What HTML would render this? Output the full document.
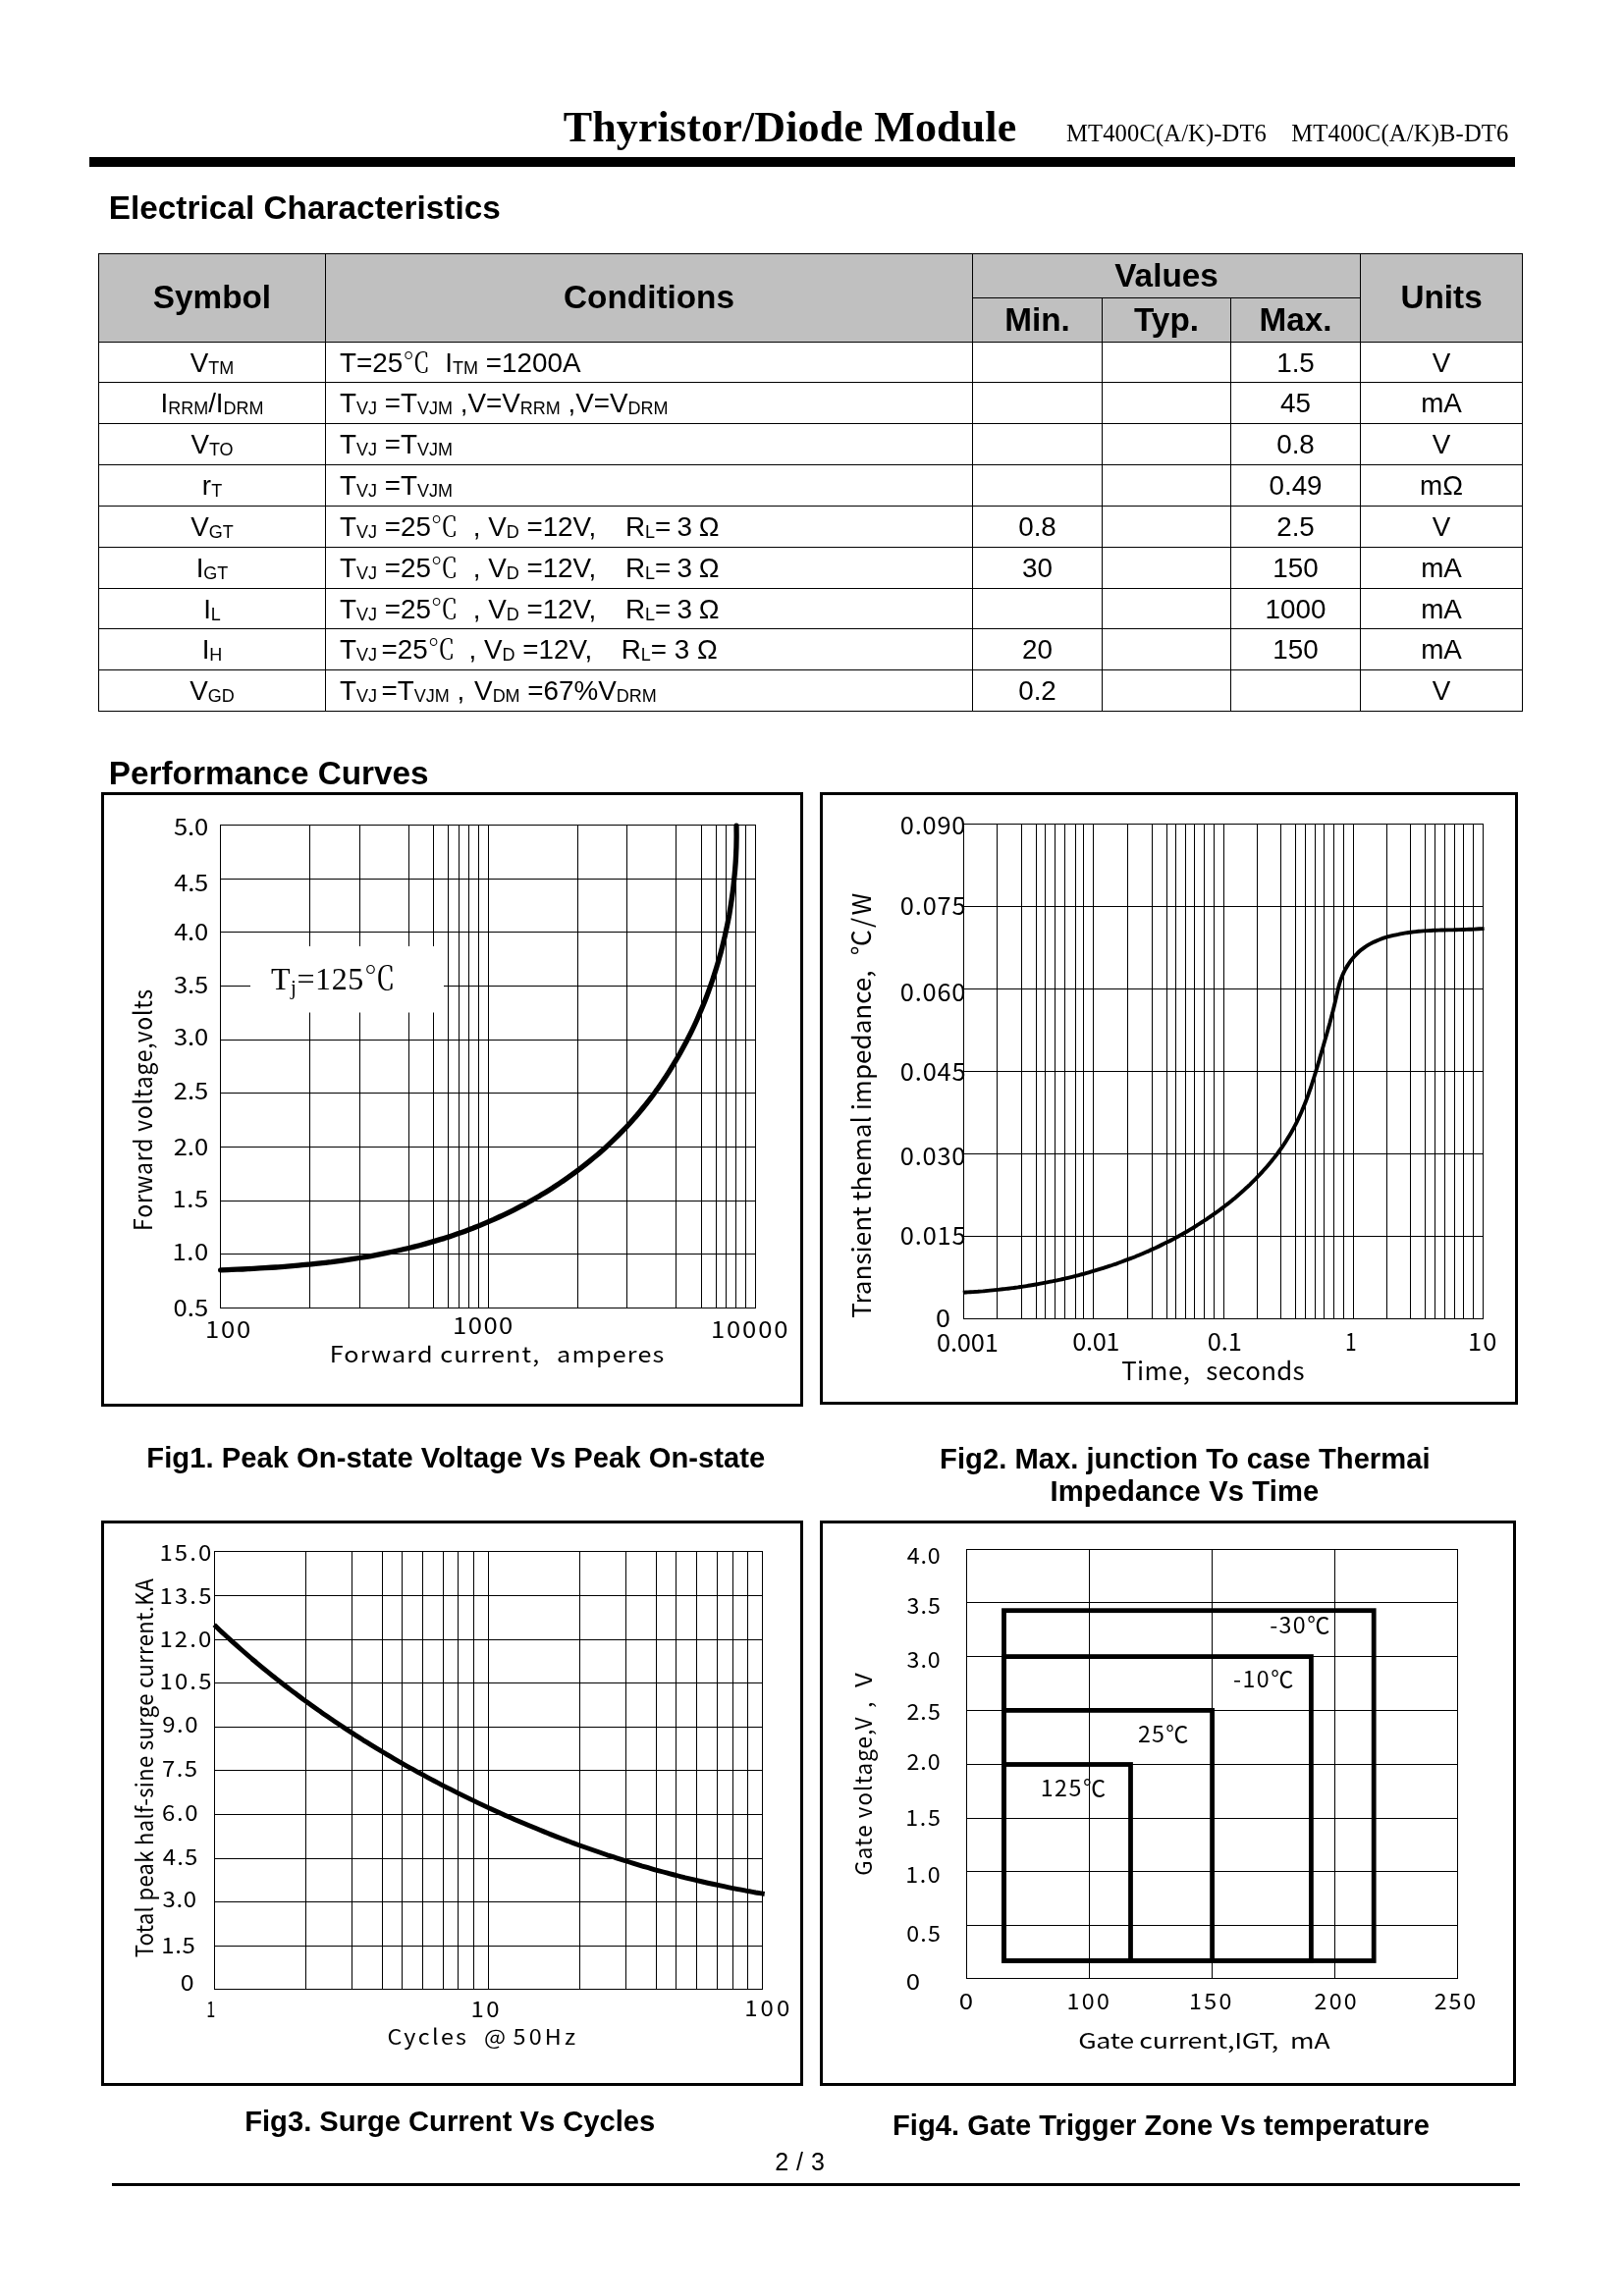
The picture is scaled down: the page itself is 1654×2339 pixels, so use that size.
<!DOCTYPE html>
<html lang="en">
<head>
<meta charset="utf-8">
<title>Thyristor/Diode Module MT400C(A/K)-DT6 - Electrical Characteristics</title>
<style>
html,body{margin:0;padding:0;background:#fff;}
body{width:1654px;height:2339px;position:relative;overflow:hidden;color:#000;font-family:"Liberation Sans","Noto Serif CJK SC",sans-serif;}
#bar{position:absolute;left:91px;top:160px;width:1452px;height:10px;background:#000;}
#foot{position:absolute;left:114px;top:2224px;width:1434px;height:3px;background:#000;}
#page{position:absolute;left:0;top:0;will-change:transform;}
table.ec{will-change:transform;position:absolute;left:100px;top:258px;width:1451px;border-collapse:separate;border-spacing:0;table-layout:fixed;font-size:27.8px;line-height:32px;}
table.ec td,table.ec th{box-sizing:border-box;border-left:1px solid #000;border-top:1px solid #000;padding:0;text-align:center;vertical-align:top;white-space:nowrap;overflow:visible;font-weight:normal;}
table.ec th{background:#c0c0c0;font-weight:bold;font-size:33.3px;line-height:38px;}
table.ec .r{border-right:1px solid #000;}
table.ec tr.last td{border-bottom:1px solid #000;}
table.ec td{padding-top:5px;}
table.ec td.cond{text-align:left;padding-left:14px;}
table.ec .g{display:inline-block;height:1px;}
table.ec .s{font-size:18px;line-height:1px;position:relative;top:2px;}
</style>
</head>
<body>
<div id="bar"></div>
<table class="ec">
<colgroup><col style="width:231px"><col style="width:659px"><col style="width:132px"><col style="width:131px"><col style="width:132px"><col style="width:166px"></colgroup>
<thead>
<tr style="height:45px"><th rowspan="2" style="padding-top:25px">Symbol</th><th rowspan="2" style="padding-top:25px">Conditions</th><th colspan="3" style="padding-top:3px">Values</th><th rowspan="2" class="r" style="padding-top:25px">Units</th></tr>
<tr style="height:45px"><th style="padding-top:3px">Min.</th><th style="padding-top:3px">Typ.</th><th style="padding-top:3px">Max.</th></tr>
</thead>
<tbody>
<tr style="height:41px"><td class="sym">V<span class="s">TM</span></td><td class="cond">T=25℃&nbsp; I<span class="s">TM</span> =1200A</td><td></td><td></td><td>1.5</td><td class="r">V</td></tr>
<tr style="height:42px"><td class="sym">I<span class="s">RRM</span>/I<span class="s">DRM</span></td><td class="cond">T<span class="s">VJ</span> =T<span class="s">VJM</span> ,V=V<span class="s">RRM</span> ,V=V<span class="s">DRM</span></td><td></td><td></td><td>45</td><td class="r">mA</td></tr>
<tr style="height:42px"><td class="sym">V<span class="s">TO</span></td><td class="cond">T<span class="s">VJ</span> =T<span class="s">VJM</span></td><td></td><td></td><td>0.8</td><td class="r">V</td></tr>
<tr style="height:42px"><td class="sym">r<span class="s">T</span></td><td class="cond">T<span class="s">VJ</span> =T<span class="s">VJM</span></td><td></td><td></td><td>0.49</td><td class="r">mΩ</td></tr>
<tr style="height:42px"><td class="sym">V<span class="s">GT</span></td><td class="cond">T<span class="s">VJ</span> =25℃<span class="g" style="width:7.3px"></span> , V<span class="s">D</span> =12V,&nbsp;&nbsp;<span class="g" style="width:6.5px"></span> R<span class="s">L</span>=<span style="margin-left:-1.5px"></span> 3<span style="margin-left:-1px"></span> Ω</td><td>0.8</td><td></td><td>2.5</td><td class="r">V</td></tr>
<tr style="height:42px"><td class="sym">I<span class="s">GT</span></td><td class="cond">T<span class="s">VJ</span> =25℃<span class="g" style="width:7.3px"></span> , V<span class="s">D</span> =12V,&nbsp;&nbsp;<span class="g" style="width:6.5px"></span> R<span class="s">L</span>=<span style="margin-left:-1.5px"></span> 3<span style="margin-left:-1px"></span> Ω</td><td>30</td><td></td><td>150</td><td class="r">mA</td></tr>
<tr style="height:41px"><td class="sym">I<span class="s">L</span></td><td class="cond">T<span class="s">VJ</span> =25℃<span class="g" style="width:7.3px"></span> , V<span class="s">D</span> =12V,&nbsp;&nbsp;<span class="g" style="width:6.5px"></span> R<span class="s">L</span>=<span style="margin-left:-1.5px"></span> 3<span style="margin-left:-1px"></span> Ω</td><td></td><td></td><td>1000</td><td class="r">mA</td></tr>
<tr style="height:42px"><td class="sym">I<span class="s">H</span></td><td class="cond">T<span class="s">VJ</span><span class="g" style="width:4.5px"></span>=25℃<span class="g" style="width:6.4px"></span> , V<span class="s">D</span> =12V,&nbsp;&nbsp;<span class="g" style="width:6.4px"></span> R<span class="s">L</span>= 3 Ω</td><td>20</td><td></td><td>150</td><td class="r">mA</td></tr>
<tr style="height:43px" class="last"><td class="sym">V<span class="s">GD</span></td><td class="cond">T<span class="s">VJ</span><span class="g" style="width:4.5px"></span>=T<span class="s">VJM</span> ,<span class="g" style="width:2.2px"></span> V<span class="s">DM</span> =67%V<span class="s">DRM</span></td><td>0.2</td><td></td><td></td><td class="r">V</td></tr>
</tbody>
</table>
<svg id="page" width="1654" height="2339" viewBox="0 0 1654 2339" fill="#000">
<rect x="104.5" y="808.5" width="712" height="623" fill="#fff" stroke="#000" stroke-width="3" shape-rendering="crispEdges"/>
<path d="M224 840.5H770 M224 895.5H770 M224 949.5H770 M224 1004.5H770 M224 1059.5H770 M224 1113.5H770 M224 1168.5H770 M224 1223.5H770 M224 1277.5H770 M224 1332.5H770 M224.5 840V1333 M315.5 840V1333 M366.5 840V1333 M416.5 840V1333 M441.5 840V1333 M456.5 840V1333 M467.5 840V1333 M477.5 840V1333 M487.5 840V1333 M497.5 840V1333 M588.5 840V1333 M638.5 840V1333 M688.5 840V1333 M714.5 840V1333 M729.5 840V1333 M739.5 840V1333 M749.5 840V1333 M759.5 840V1333 M769.5 840V1333" stroke="#000" stroke-width="1" fill="none" shape-rendering="crispEdges"/>
<rect x="255" y="964" width="197" height="67.5" fill="#fff"/>
<path d="M224.6 1293.9C226.4 1293.8 232.0 1293.6 235.8 1293.4C239.5 1293.3 243.3 1293.1 247.0 1293.0C250.8 1292.8 254.5 1292.6 258.3 1292.4C262.1 1292.2 265.8 1292.0 269.6 1291.7C273.4 1291.5 277.1 1291.3 280.9 1291.0C284.7 1290.7 288.5 1290.5 292.2 1290.2C296.0 1289.9 299.8 1289.5 303.6 1289.2C307.4 1288.9 311.1 1288.5 314.9 1288.1C318.7 1287.7 322.5 1287.3 326.3 1286.9C330.0 1286.5 333.8 1286.0 337.6 1285.6C341.4 1285.1 345.2 1284.6 348.9 1284.1C352.7 1283.6 356.5 1283.0 360.2 1282.4C364.0 1281.8 367.7 1281.2 371.5 1280.6C375.2 1280.0 379.0 1279.3 382.7 1278.6C386.5 1277.9 390.2 1277.2 393.9 1276.4C397.7 1275.7 401.4 1274.9 405.1 1274.0C408.8 1273.2 412.5 1272.4 416.2 1271.5C419.9 1270.6 423.6 1269.6 427.3 1268.7C431.0 1267.7 434.6 1266.7 438.3 1265.6C441.9 1264.6 445.6 1263.5 449.2 1262.4C452.9 1261.3 456.5 1260.1 460.1 1258.9C463.7 1257.7 467.3 1256.4 470.9 1255.2C474.5 1253.9 478.0 1252.5 481.6 1251.2C485.1 1249.8 488.7 1248.4 492.2 1246.9C495.7 1245.4 499.2 1243.9 502.7 1242.4C506.2 1240.8 509.6 1239.2 513.1 1237.6C516.5 1236.0 520.0 1234.3 523.4 1232.6C526.8 1230.9 530.1 1229.1 533.5 1227.3C536.9 1225.5 540.2 1223.7 543.5 1221.8C546.8 1219.9 550.1 1218.0 553.3 1216.0C556.6 1214.1 559.8 1212.0 563.0 1210.0C566.2 1207.9 569.4 1205.9 572.5 1203.7C575.7 1201.6 578.8 1199.4 581.8 1197.2C584.9 1195.0 588.0 1192.7 591.0 1190.4C594.0 1188.1 596.9 1185.8 599.9 1183.4C602.8 1181.0 605.7 1178.6 608.6 1176.2C611.5 1173.7 614.3 1171.2 617.1 1168.7C619.9 1166.1 622.6 1163.5 625.3 1160.9C628.0 1158.3 630.7 1155.6 633.3 1152.9C636.0 1150.2 638.6 1147.5 641.1 1144.7C643.6 1141.9 646.1 1139.1 648.6 1136.2C651.0 1133.4 653.5 1130.4 655.8 1127.5C658.2 1124.6 660.5 1121.6 662.8 1118.6C665.1 1115.6 667.3 1112.5 669.5 1109.5C671.7 1106.4 673.8 1103.3 675.9 1100.1C678.1 1097.0 680.1 1093.8 682.1 1090.6C684.1 1087.4 686.1 1084.2 688.0 1080.9C690.0 1077.7 691.9 1074.4 693.7 1071.1C695.5 1067.7 697.3 1064.4 699.1 1061.0C700.8 1057.7 702.5 1054.3 704.2 1050.9C705.9 1047.4 707.5 1044.0 709.1 1040.5C710.6 1037.1 712.2 1033.6 713.6 1030.1C715.1 1026.6 716.6 1023.0 718.0 1019.5C719.4 1015.9 720.7 1012.4 722.0 1008.8C723.3 1005.2 724.6 1001.6 725.8 998.0C727.0 994.4 728.2 990.7 729.3 987.1C730.4 983.4 731.5 979.8 732.5 976.1C733.6 972.4 734.6 968.7 735.5 965.1C736.4 961.4 737.3 957.6 738.2 953.9C739.0 950.2 739.8 946.5 740.6 942.7C741.4 939.0 742.1 935.3 742.8 931.5C743.4 927.8 744.0 924.0 744.6 920.2C745.2 916.5 745.7 912.7 746.2 909.0C746.7 905.2 747.2 901.4 747.5 897.6C747.9 893.9 748.3 890.1 748.6 886.3C748.9 882.5 749.2 878.8 749.4 875.0C749.6 871.2 749.7 867.4 749.9 863.7C750.0 859.9 750.0 856.1 750.1 852.4C750.1 848.6 750.0 843.0 750.0 841.1" fill="none" stroke="#000" stroke-width="5.3" stroke-linecap="round" stroke-linejoin="round"/>
<text x="276" y="1007.7" font-size="32" letter-spacing="0.55" style='font-family:"Liberation Serif","Noto Serif CJK SC",serif'>T<tspan font-size="21" dy="5">j</tspan><tspan dy="-5">=125℃</tspan></text>
<rect x="836.5" y="808.5" width="708" height="621" fill="#fff" stroke="#000" stroke-width="3" shape-rendering="crispEdges"/>
<path d="M981 839.5H1511 M981 923.5H1511 M981 1007.5H1511 M981 1091.5H1511 M981 1175.5H1511 M981 1259.5H1511 M981 1343.5H1511 M981.5 839V1344 M1015.5 839V1344 M1040.5 839V1344 M1055.5 839V1344 M1064.5 839V1344 M1074.5 839V1344 M1084.5 839V1344 M1095.5 839V1344 M1103.5 839V1344 M1113.5 839V1344 M1148.5 839V1344 M1173.5 839V1344 M1188.5 839V1344 M1197.5 839V1344 M1207.5 839V1344 M1216.5 839V1344 M1226.5 839V1344 M1236.5 839V1344 M1246.5 839V1344 M1280.5 839V1344 M1304.5 839V1344 M1319.5 839V1344 M1329.5 839V1344 M1339.5 839V1344 M1348.5 839V1344 M1358.5 839V1344 M1368.5 839V1344 M1378.5 839V1344 M1412.5 839V1344 M1436.5 839V1344 M1451.5 839V1344 M1461.5 839V1344 M1471.5 839V1344 M1481.5 839V1344 M1490.5 839V1344 M1500.5 839V1344 M1510.5 839V1344" stroke="#000" stroke-width="1" fill="none" shape-rendering="crispEdges"/>
<path d="M980.8 1316.7C981.6 1316.6 984.1 1316.5 985.8 1316.4C987.5 1316.3 989.2 1316.2 990.9 1316.1C992.6 1316.0 994.3 1315.9 996.0 1315.8C997.7 1315.6 999.4 1315.5 1001.1 1315.4C1002.8 1315.2 1004.5 1315.1 1006.2 1314.9C1007.9 1314.8 1009.6 1314.6 1011.3 1314.4C1013.0 1314.3 1014.7 1314.1 1016.4 1313.9C1018.1 1313.7 1019.8 1313.5 1021.5 1313.3C1023.2 1313.2 1024.9 1312.9 1026.6 1312.7C1028.3 1312.5 1030.0 1312.3 1031.7 1312.1C1033.4 1311.9 1035.1 1311.6 1036.8 1311.4C1038.5 1311.1 1040.2 1310.9 1041.9 1310.6C1043.6 1310.4 1045.3 1310.1 1047.0 1309.8C1048.7 1309.6 1050.4 1309.3 1052.1 1309.0C1053.8 1308.7 1055.5 1308.4 1057.2 1308.1C1058.9 1307.8 1060.6 1307.5 1062.3 1307.2C1064.0 1306.9 1065.7 1306.5 1067.4 1306.2C1069.1 1305.9 1070.8 1305.5 1072.5 1305.2C1074.1 1304.8 1075.8 1304.5 1077.5 1304.1C1079.2 1303.7 1080.9 1303.4 1082.6 1303.0C1084.3 1302.6 1085.9 1302.2 1087.6 1301.8C1089.3 1301.4 1091.0 1301.0 1092.7 1300.6C1094.3 1300.2 1096.0 1299.7 1097.7 1299.3C1099.4 1298.9 1101.0 1298.4 1102.7 1298.0C1104.4 1297.5 1106.0 1297.1 1107.7 1296.6C1109.4 1296.1 1111.0 1295.7 1112.7 1295.2C1114.3 1294.7 1116.0 1294.2 1117.6 1293.7C1119.3 1293.2 1120.9 1292.7 1122.6 1292.2C1124.2 1291.7 1125.9 1291.1 1127.5 1290.6C1129.2 1290.1 1130.8 1289.5 1132.4 1289.0C1134.1 1288.4 1135.7 1287.8 1137.3 1287.3C1139.0 1286.7 1140.6 1286.1 1142.2 1285.5C1143.8 1284.9 1145.4 1284.3 1147.0 1283.7C1148.7 1283.1 1150.3 1282.5 1151.9 1281.9C1153.5 1281.3 1155.1 1280.6 1156.7 1280.0C1158.3 1279.3 1159.9 1278.7 1161.5 1278.0C1163.0 1277.4 1164.6 1276.7 1166.2 1276.0C1167.8 1275.3 1169.4 1274.6 1170.9 1273.9C1172.5 1273.2 1174.1 1272.5 1175.6 1271.8C1177.2 1271.1 1178.7 1270.3 1180.3 1269.6C1181.9 1268.9 1183.4 1268.1 1184.9 1267.3C1186.5 1266.6 1188.0 1265.8 1189.6 1265.0C1191.1 1264.3 1192.6 1263.5 1194.1 1262.7C1195.7 1261.9 1197.2 1261.1 1198.7 1260.3C1200.2 1259.4 1201.7 1258.6 1203.2 1257.8C1204.7 1256.9 1206.2 1256.1 1207.7 1255.2C1209.2 1254.4 1210.6 1253.5 1212.1 1252.6C1213.6 1251.7 1215.1 1250.9 1216.5 1250.0C1218.0 1249.1 1219.4 1248.1 1220.9 1247.2C1222.3 1246.3 1223.8 1245.4 1225.2 1244.4C1226.7 1243.5 1228.1 1242.5 1229.5 1241.6C1230.9 1240.6 1232.4 1239.7 1233.8 1238.7C1235.2 1237.7 1236.6 1236.7 1238.0 1235.7C1239.4 1234.7 1240.8 1233.7 1242.1 1232.7C1243.5 1231.6 1244.9 1230.6 1246.3 1229.6C1247.6 1228.5 1249.0 1227.5 1250.4 1226.4C1251.7 1225.3 1253.1 1224.2 1254.4 1223.2C1255.7 1222.1 1257.1 1221.0 1258.4 1219.9C1259.7 1218.7 1261.0 1217.6 1262.3 1216.5C1263.6 1215.4 1264.9 1214.2 1266.2 1213.1C1267.5 1211.9 1268.7 1210.7 1270.0 1209.6C1271.3 1208.4 1272.5 1207.2 1273.7 1206.0C1275.0 1204.8 1276.2 1203.6 1277.4 1202.4C1278.6 1201.2 1279.8 1199.9 1281.0 1198.7C1282.2 1197.5 1283.4 1196.2 1284.6 1194.9C1285.7 1193.7 1286.9 1192.4 1288.0 1191.1C1289.2 1189.8 1290.3 1188.5 1291.4 1187.2C1292.5 1185.9 1293.6 1184.6 1294.7 1183.3C1295.8 1181.9 1296.8 1180.6 1297.9 1179.3C1299.0 1177.9 1300.0 1176.5 1301.0 1175.2C1302.0 1173.8 1303.0 1172.4 1304.0 1171.0C1305.0 1169.6 1306.0 1168.2 1307.0 1166.8C1307.9 1165.4 1308.9 1163.9 1309.8 1162.5C1310.7 1161.1 1311.6 1159.6 1312.5 1158.1C1313.4 1156.7 1314.2 1155.2 1315.1 1153.7C1315.9 1152.2 1316.8 1150.7 1317.6 1149.2C1318.4 1147.7 1319.2 1146.2 1320.0 1144.7C1320.7 1143.1 1321.5 1141.6 1322.2 1140.0C1323.0 1138.5 1323.7 1136.9 1324.4 1135.3C1325.1 1133.8 1325.8 1132.2 1326.4 1130.6C1327.1 1129.0 1327.8 1127.4 1328.4 1125.8C1329.1 1124.2 1329.7 1122.6 1330.3 1121.0C1330.9 1119.4 1331.5 1117.7 1332.1 1116.1C1332.7 1114.5 1333.3 1112.8 1333.8 1111.2C1334.4 1109.6 1335.0 1107.9 1335.5 1106.3C1336.1 1104.6 1336.6 1103.0 1337.1 1101.3C1337.7 1099.7 1338.2 1098.0 1338.7 1096.3C1339.2 1094.7 1339.7 1093.0 1340.2 1091.4C1340.7 1089.7 1341.2 1088.0 1341.7 1086.4C1342.2 1084.7 1342.7 1083.0 1343.2 1081.4C1343.7 1079.7 1344.1 1078.0 1344.6 1076.4C1345.1 1074.7 1345.6 1073.1 1346.1 1071.4C1346.5 1069.8 1347.0 1068.1 1347.5 1066.5C1348.0 1064.8 1348.4 1063.2 1348.9 1061.5C1349.4 1059.9 1349.8 1058.2 1350.3 1056.6C1350.8 1054.9 1351.3 1053.3 1351.7 1051.7C1352.2 1050.0 1352.6 1048.4 1353.1 1046.7C1353.6 1045.1 1354.0 1043.5 1354.5 1041.8C1354.9 1040.2 1355.3 1038.5 1355.8 1036.9C1356.2 1035.2 1356.6 1033.6 1357.1 1031.9C1357.5 1030.3 1357.9 1028.6 1358.3 1027.0C1358.7 1025.3 1359.1 1023.6 1359.5 1022.0C1359.9 1020.3 1360.3 1018.6 1360.7 1016.9C1361.1 1015.3 1361.4 1013.6 1361.8 1011.9C1362.2 1010.2 1362.6 1008.5 1363.0 1006.9C1363.4 1005.2 1363.9 1003.5 1364.3 1001.8C1364.8 1000.2 1365.4 998.5 1366.0 996.9C1366.6 995.3 1367.2 993.7 1367.9 992.1C1368.6 990.5 1369.4 989.0 1370.2 987.4C1371.1 985.9 1371.9 984.4 1372.9 983.0C1373.8 981.5 1374.8 980.1 1375.8 978.7C1376.8 977.3 1377.9 976.0 1379.0 974.7C1380.2 973.4 1381.4 972.2 1382.6 971.0C1383.8 969.8 1385.1 968.7 1386.4 967.6C1387.7 966.6 1389.1 965.6 1390.5 964.6C1391.9 963.7 1393.4 962.8 1394.9 961.9C1396.4 961.1 1397.9 960.3 1399.4 959.6C1401.0 958.9 1402.6 958.2 1404.2 957.5C1405.8 956.9 1407.4 956.3 1409.0 955.7C1410.7 955.2 1412.3 954.7 1414.0 954.2C1415.7 953.7 1417.4 953.3 1419.1 952.9C1420.8 952.5 1422.5 952.1 1424.2 951.8C1425.9 951.4 1427.6 951.1 1429.3 950.8C1431.0 950.5 1432.7 950.3 1434.4 950.0C1436.1 949.8 1437.8 949.6 1439.5 949.4C1441.2 949.2 1442.9 949.0 1444.6 948.8C1446.3 948.7 1448.0 948.5 1449.8 948.4C1451.5 948.3 1453.2 948.2 1454.9 948.1C1456.6 948.0 1458.3 947.9 1460.0 947.8C1461.7 947.8 1463.5 947.7 1465.2 947.6C1466.9 947.6 1468.6 947.5 1470.3 947.5C1472.0 947.4 1473.8 947.4 1475.5 947.4C1477.2 947.3 1478.9 947.3 1480.6 947.3C1482.4 947.2 1484.1 947.2 1485.8 947.1C1487.5 947.1 1489.2 947.1 1491.0 947.0C1492.7 946.9 1494.4 946.9 1496.1 946.8C1497.8 946.8 1499.6 946.7 1501.3 946.6C1503.0 946.5 1504.7 946.4 1506.4 946.3C1508.2 946.2 1510.7 946.0 1511.6 945.9" fill="none" stroke="#000" stroke-width="3.9" stroke-linecap="butt" stroke-linejoin="round"/>
<rect x="104.5" y="1550.5" width="712" height="573" fill="#fff" stroke="#000" stroke-width="3" shape-rendering="crispEdges"/>
<path d="M218 1580.5H777 M218 1625.5H777 M218 1670.5H777 M218 1714.5H777 M218 1759.5H777 M218 1803.5H777 M218 1848.5H777 M218 1893.5H777 M218 1937.5H777 M218 1982.5H777 M218 2026.5H777 M218.5 1580V2027 M311.5 1580V2027 M358.5 1580V2027 M389.5 1580V2027 M409.5 1580V2027 M430.5 1580V2027 M451.5 1580V2027 M466.5 1580V2027 M482.5 1580V2027 M497.5 1580V2027 M590.5 1580V2027 M637.5 1580V2027 M668.5 1580V2027 M688.5 1580V2027 M709.5 1580V2027 M730.5 1580V2027 M746.5 1580V2027 M761.5 1580V2027 M776.5 1580V2027" stroke="#000" stroke-width="1" fill="none" shape-rendering="crispEdges"/>
<path d="M218.2 1655.3C219.3 1656.3 222.6 1659.5 224.8 1661.6C227.1 1663.6 229.3 1665.7 231.6 1667.8C233.8 1669.8 236.1 1671.9 238.3 1673.9C240.6 1676.0 242.9 1678.0 245.2 1680.0C247.5 1682.0 249.8 1684.0 252.1 1686.0C254.4 1688.0 256.7 1690.0 259.1 1692.0C261.4 1693.9 263.7 1695.9 266.1 1697.8C268.4 1699.8 270.8 1701.7 273.2 1703.6C275.5 1705.5 277.9 1707.5 280.3 1709.3C282.7 1711.2 285.1 1713.1 287.5 1715.0C289.9 1716.9 292.3 1718.7 294.8 1720.6C297.2 1722.5 299.6 1724.3 302.1 1726.1C304.5 1728.0 307.0 1729.8 309.4 1731.6C311.9 1733.4 314.4 1735.2 316.9 1737.0C319.3 1738.7 321.8 1740.5 324.3 1742.3C326.8 1744.0 329.3 1745.8 331.8 1747.5C334.3 1749.3 336.9 1751.0 339.4 1752.7C341.9 1754.4 344.5 1756.1 347.0 1757.8C349.6 1759.5 352.1 1761.2 354.7 1762.9C357.2 1764.5 359.8 1766.2 362.4 1767.9C365.0 1769.5 367.5 1771.1 370.1 1772.8C372.7 1774.4 375.3 1776.0 377.9 1777.6C380.5 1779.2 383.1 1780.8 385.8 1782.4C388.4 1784.0 391.0 1785.5 393.6 1787.1C396.3 1788.7 398.9 1790.2 401.6 1791.8C404.2 1793.3 406.9 1794.8 409.5 1796.3C412.2 1797.9 414.8 1799.4 417.5 1800.9C420.2 1802.3 422.9 1803.8 425.6 1805.3C428.2 1806.8 430.9 1808.2 433.6 1809.7C436.3 1811.1 439.0 1812.6 441.7 1814.0C444.4 1815.4 447.2 1816.9 449.9 1818.3C452.6 1819.7 455.3 1821.1 458.1 1822.4C460.8 1823.8 463.5 1825.2 466.3 1826.6C469.0 1827.9 471.8 1829.3 474.5 1830.6C477.3 1832.0 480.0 1833.3 482.8 1834.6C485.5 1836.0 488.3 1837.3 491.1 1838.6C493.8 1839.9 496.6 1841.2 499.4 1842.4C502.2 1843.7 505.0 1845.0 507.8 1846.2C510.5 1847.5 513.3 1848.7 516.1 1850.0C518.9 1851.2 521.7 1852.4 524.5 1853.7C527.3 1854.9 530.1 1856.1 533.0 1857.3C535.8 1858.5 538.6 1859.7 541.4 1860.8C544.2 1862.0 547.1 1863.2 549.9 1864.3C552.7 1865.5 555.5 1866.6 558.4 1867.7C561.2 1868.9 564.1 1870.0 566.9 1871.1C569.8 1872.2 572.6 1873.3 575.5 1874.4C578.3 1875.5 581.2 1876.5 584.0 1877.6C586.9 1878.7 589.7 1879.7 592.6 1880.8C595.5 1881.8 598.4 1882.8 601.2 1883.8C604.1 1884.8 607.0 1885.8 609.9 1886.8C612.8 1887.8 615.7 1888.8 618.5 1889.8C621.4 1890.7 624.3 1891.7 627.2 1892.6C630.1 1893.6 633.0 1894.5 636.0 1895.4C638.9 1896.3 641.8 1897.2 644.7 1898.1C647.6 1899.0 650.5 1899.9 653.5 1900.8C656.4 1901.6 659.3 1902.5 662.3 1903.3C665.2 1904.2 668.1 1905.0 671.1 1905.8C674.0 1906.6 677.0 1907.4 679.9 1908.2C682.9 1909.0 685.8 1909.8 688.8 1910.5C691.7 1911.3 694.7 1912.0 697.7 1912.8C700.6 1913.5 703.6 1914.2 706.6 1914.9C709.6 1915.6 712.6 1916.3 715.5 1917.0C718.5 1917.7 721.5 1918.4 724.5 1919.0C727.5 1919.7 730.5 1920.3 733.5 1920.9C736.5 1921.6 739.5 1922.2 742.5 1922.8C745.5 1923.4 748.5 1924.0 751.5 1924.6C754.5 1925.2 757.6 1925.7 760.6 1926.3C763.6 1926.9 766.6 1927.4 769.6 1928.0C772.7 1928.5 777.2 1929.3 778.7 1929.5" fill="none" stroke="#000" stroke-width="4.9" stroke-linecap="butt" stroke-linejoin="round"/>
<rect x="836.5" y="1550.5" width="706" height="573" fill="#fff" stroke="#000" stroke-width="3" shape-rendering="crispEdges"/>
<path d="M984 1578.5H1485 M984 1632.5H1485 M984 1687.5H1485 M984 1742.5H1485 M984 1797.5H1485 M984 1852.5H1485 M984 1906.5H1485 M984 1961.5H1485 M984 2015.5H1485 M984.5 1578V2016 M1109.5 1578V2016 M1234.5 1578V2016 M1359.5 1578V2016 M1484.5 1578V2016" stroke="#000" stroke-width="1" fill="none" shape-rendering="crispEdges"/>
<rect x="1022.5" y="1640.7" width="376.7" height="356.8" fill="none" stroke="#000" stroke-width="4.8"/>
<rect x="1022.5" y="1687.6" width="312.9" height="309.9" fill="none" stroke="#000" stroke-width="4.8"/>
<rect x="1022.5" y="1742.4" width="212.1" height="255.1" fill="none" stroke="#000" stroke-width="4.8"/>
<rect x="1022.5" y="1797.5" width="129.0" height="200.0" fill="none" stroke="#000" stroke-width="4.8"/>
<text transform="translate(176.96,850.70) scale(1.1200,1)" font-size="22.9" letter-spacing="-0.180" style='font-family:"Noto Sans CJK SC",sans-serif'>5.0</text>
<text transform="translate(177.22,907.90) scale(1.1200,1)" font-size="22.9" letter-spacing="-0.238" style='font-family:"Noto Sans CJK SC",sans-serif'>4.5</text>
<text transform="translate(177.22,957.70) scale(1.1200,1)" font-size="22.9" letter-spacing="-0.295" style='font-family:"Noto Sans CJK SC",sans-serif'>4.0</text>
<text transform="translate(176.96,1011.70) scale(1.1200,1)" font-size="22.9" letter-spacing="-0.123" style='font-family:"Noto Sans CJK SC",sans-serif'>3.5</text>
<text transform="translate(176.96,1064.60) scale(1.1200,1)" font-size="22.9" letter-spacing="-0.180" style='font-family:"Noto Sans CJK SC",sans-serif'>3.0</text>
<text transform="translate(176.70,1119.70) scale(1.1200,1)" font-size="22.9" letter-spacing="-0.009" style='font-family:"Noto Sans CJK SC",sans-serif'>2.5</text>
<text transform="translate(176.70,1176.90) scale(1.1200,1)" font-size="22.9" letter-spacing="-0.066" style='font-family:"Noto Sans CJK SC",sans-serif'>2.0</text>
<text transform="translate(175.42,1230.40) scale(1.1200,1)" font-size="22.9" letter-spacing="0.564" style='font-family:"Noto Sans CJK SC",sans-serif'>1.5</text>
<text transform="translate(175.42,1284.40) scale(1.1200,1)" font-size="22.9" letter-spacing="0.507" style='font-family:"Noto Sans CJK SC",sans-serif'>1.0</text>
<text transform="translate(176.45,1340.60) scale(1.1200,1)" font-size="22.9" letter-spacing="0.106" style='font-family:"Noto Sans CJK SC",sans-serif'>0.5</text>
<text transform="translate(208.92,1363.20) scale(1.1200,1)" font-size="22.9" letter-spacing="1.621" style='font-family:"Noto Sans CJK SC",sans-serif'>100</text>
<text transform="translate(461.02,1358.50) scale(1.1200,1)" font-size="22.9" letter-spacing="1.308" style='font-family:"Noto Sans CJK SC",sans-serif'>1000</text>
<text transform="translate(724.02,1362.80) scale(1.1200,1)" font-size="22.9" letter-spacing="1.621" style='font-family:"Noto Sans CJK SC",sans-serif'>10000</text>
<text transform="translate(335.68,1388.00) scale(1.1200,1)" font-size="22.5" letter-spacing="0.971" style='font-family:"Noto Sans CJK SC",sans-serif'>Forward current,</text>
<text transform="translate(567.11,1388.00) scale(1.1200,1)" font-size="22.5" letter-spacing="1.035" style='font-family:"Noto Sans CJK SC",sans-serif'>amperes</text>
<text transform="translate(155.40,1253.89) rotate(-90) scale(0.9050,1)" font-size="25.3" letter-spacing="0.917" style='font-family:"Noto Sans CJK SC",sans-serif'>Forward voltage,volts</text>
<text transform="translate(916.86,850.30) scale(1.0000,1)" font-size="25.4" letter-spacing="0.784" style='font-family:"Noto Sans CJK SC",sans-serif'>0.090</text>
<text transform="translate(916.86,931.70) scale(1.0000,1)" font-size="25.4" letter-spacing="0.816" style='font-family:"Noto Sans CJK SC",sans-serif'>0.075</text>
<text transform="translate(916.86,1019.90) scale(1.0000,1)" font-size="25.4" letter-spacing="0.784" style='font-family:"Noto Sans CJK SC",sans-serif'>0.060</text>
<text transform="translate(916.86,1101.30) scale(1.0000,1)" font-size="25.4" letter-spacing="0.816" style='font-family:"Noto Sans CJK SC",sans-serif'>0.045</text>
<text transform="translate(916.86,1186.70) scale(1.0000,1)" font-size="25.4" letter-spacing="0.784" style='font-family:"Noto Sans CJK SC",sans-serif'>0.030</text>
<text transform="translate(916.86,1268.30) scale(1.0000,1)" font-size="25.4" letter-spacing="0.816" style='font-family:"Noto Sans CJK SC",sans-serif'>0.015</text>
<text transform="translate(953.09,1352.20) scale(1.0583,1)" font-size="25.4" style='font-family:"Noto Sans CJK SC",sans-serif'>0</text>
<text transform="translate(953.96,1376.60) scale(1.0000,1)" font-size="25.4" letter-spacing="-0.139" style='font-family:"Noto Sans CJK SC",sans-serif'>0.001</text>
<text transform="translate(1092.26,1376.30) scale(1.0000,1)" font-size="25.4" letter-spacing="-0.386" style='font-family:"Noto Sans CJK SC",sans-serif'>0.01</text>
<text transform="translate(1229.76,1376.30) scale(1.0000,1)" font-size="25.4" letter-spacing="-0.081" style='font-family:"Noto Sans CJK SC",sans-serif'>0.1</text>
<text transform="translate(1370.02,1375.80) scale(0.8263,1)" font-size="25.4" style='font-family:"Noto Sans CJK SC",sans-serif'>1</text>
<text transform="translate(1495.04,1376.00) scale(1.0000,1)" font-size="25.4" letter-spacing="1.008" style='font-family:"Noto Sans CJK SC",sans-serif'>10</text>
<text transform="translate(1142.13,1406.30) scale(1.0000,1)" font-size="25.8" letter-spacing="0.459" style='font-family:"Noto Sans CJK SC",sans-serif'>Time,</text>
<text transform="translate(1228.23,1406.30) scale(1.0000,1)" font-size="25.8" letter-spacing="0.346" style='font-family:"Noto Sans CJK SC",sans-serif'>seconds</text>
<text transform="translate(887.00,1342.78) rotate(-90) scale(1.0000,1)" font-size="26.0" letter-spacing="0.015" style='font-family:"Noto Sans CJK SC",sans-serif'>Transient themal impedance,</text>
<text transform="translate(887.00,973.37) rotate(-90) scale(1.0000,1)" font-size="26.0" letter-spacing="2.374" style='font-family:"Noto Sans CJK SC",sans-serif'>℃/W</text>
<text transform="translate(162.46,1589.60) scale(1.0800,1)" font-size="22.2" letter-spacing="1.954" style='font-family:"Noto Sans CJK SC",sans-serif'>15.0</text>
<text transform="translate(162.46,1633.90) scale(1.0800,1)" font-size="22.2" letter-spacing="1.991" style='font-family:"Noto Sans CJK SC",sans-serif'>13.5</text>
<text transform="translate(162.46,1677.70) scale(1.0800,1)" font-size="22.2" letter-spacing="1.954" style='font-family:"Noto Sans CJK SC",sans-serif'>12.0</text>
<text transform="translate(162.46,1721.30) scale(1.0800,1)" font-size="22.2" letter-spacing="1.991" style='font-family:"Noto Sans CJK SC",sans-serif'>10.5</text>
<text transform="translate(165.24,1765.20) scale(1.0800,1)" font-size="22.2" letter-spacing="1.416" style='font-family:"Noto Sans CJK SC",sans-serif'>9.0</text>
<text transform="translate(165.12,1810.00) scale(1.0800,1)" font-size="22.2" letter-spacing="1.203" style='font-family:"Noto Sans CJK SC",sans-serif'>7.5</text>
<text transform="translate(165.00,1854.80) scale(1.0800,1)" font-size="22.2" letter-spacing="1.527" style='font-family:"Noto Sans CJK SC",sans-serif'>6.0</text>
<text transform="translate(165.84,1899.90) scale(1.0800,1)" font-size="22.2" letter-spacing="0.963" style='font-family:"Noto Sans CJK SC",sans-serif'>4.5</text>
<text transform="translate(165.60,1943.40) scale(1.0800,1)" font-size="22.2" letter-spacing="0.602" style='font-family:"Noto Sans CJK SC",sans-serif'>3.0</text>
<text transform="translate(164.16,1989.60) scale(1.0800,1)" font-size="22.2" letter-spacing="0.629" style='font-family:"Noto Sans CJK SC",sans-serif'>1.5</text>
<text transform="translate(183.68,2027.90) scale(1.1237,1)" font-size="22.2" style='font-family:"Noto Sans CJK SC",sans-serif'>0</text>
<text transform="translate(210.21,2054.70) scale(0.7341,1)" font-size="22.2" style='font-family:"Noto Sans CJK SC",sans-serif'>1</text>
<text transform="translate(479.46,2054.50) scale(1.0800,1)" font-size="22.2" letter-spacing="2.225" style='font-family:"Noto Sans CJK SC",sans-serif'>10</text>
<text transform="translate(758.16,2054.20) scale(1.0800,1)" font-size="22.2" letter-spacing="2.915" style='font-family:"Noto Sans CJK SC",sans-serif'>100</text>
<text transform="translate(394.52,2083.40) scale(1.0800,1)" font-size="21.6" letter-spacing="2.147" style='font-family:"Noto Sans CJK SC",sans-serif'>Cycles</text>
<text transform="translate(493.12,2083.40) scale(1.0812,1)" font-size="21.6" style='font-family:"Noto Sans CJK SC",sans-serif'>@</text>
<text transform="translate(522.52,2083.40) scale(1.0800,1)" font-size="21.6" letter-spacing="2.997" style='font-family:"Noto Sans CJK SC",sans-serif'>50Hz</text>
<text transform="translate(155.90,1994.36) rotate(-90) scale(0.9300,1)" font-size="23.7" letter-spacing="0.347" style='font-family:"Noto Sans CJK SC",sans-serif'>Total peak half-sine surge current.KA</text>
<text transform="translate(923.85,1592.70) scale(1.0400,1)" font-size="22.3" letter-spacing="0.770" style='font-family:"Noto Sans CJK SC",sans-serif'>4.0</text>
<text transform="translate(923.62,1644.40) scale(1.0400,1)" font-size="22.3" letter-spacing="0.937" style='font-family:"Noto Sans CJK SC",sans-serif'>3.5</text>
<text transform="translate(923.62,1698.50) scale(1.0400,1)" font-size="22.3" letter-spacing="0.881" style='font-family:"Noto Sans CJK SC",sans-serif'>3.0</text>
<text transform="translate(923.39,1751.60) scale(1.0400,1)" font-size="22.3" letter-spacing="1.048" style='font-family:"Noto Sans CJK SC",sans-serif'>2.5</text>
<text transform="translate(923.39,1803.30) scale(1.0400,1)" font-size="22.3" letter-spacing="0.993" style='font-family:"Noto Sans CJK SC",sans-serif'>2.0</text>
<text transform="translate(922.23,1859.50) scale(1.0400,1)" font-size="22.3" letter-spacing="1.606" style='font-family:"Noto Sans CJK SC",sans-serif'>1.5</text>
<text transform="translate(922.23,1917.50) scale(1.0400,1)" font-size="22.3" letter-spacing="1.550" style='font-family:"Noto Sans CJK SC",sans-serif'>1.0</text>
<text transform="translate(923.16,1977.60) scale(1.0400,1)" font-size="22.3" letter-spacing="1.160" style='font-family:"Noto Sans CJK SC",sans-serif'>0.5</text>
<text transform="translate(922.84,2027.20) scale(1.1572,1)" font-size="22.3" style='font-family:"Noto Sans CJK SC",sans-serif'>0</text>
<text transform="translate(976.74,2047.30) scale(1.1572,1)" font-size="22.3" style='font-family:"Noto Sans CJK SC",sans-serif'>0</text>
<text transform="translate(1086.53,2047.00) scale(1.0400,1)" font-size="22.3" letter-spacing="2.308" style='font-family:"Noto Sans CJK SC",sans-serif'>100</text>
<text transform="translate(1211.03,2047.00) scale(1.0400,1)" font-size="22.3" letter-spacing="2.308" style='font-family:"Noto Sans CJK SC",sans-serif'>150</text>
<text transform="translate(1338.49,2047.00) scale(1.0400,1)" font-size="22.3" letter-spacing="2.183" style='font-family:"Noto Sans CJK SC",sans-serif'>200</text>
<text transform="translate(1460.69,2047.00) scale(1.0400,1)" font-size="22.3" letter-spacing="1.798" style='font-family:"Noto Sans CJK SC",sans-serif'>250</text>
<text transform="translate(1098.22,2087.40) scale(1.2200,1)" font-size="22.0" letter-spacing="-0.263" style='font-family:"Noto Sans CJK SC",sans-serif'>Gate current,IGT,</text>
<text transform="translate(1314.01,2087.40) scale(1.2050,1)" font-size="22.0" style='font-family:"Noto Sans CJK SC",sans-serif'>mA</text>
<text transform="translate(1293.16,1664.30) scale(1.0400,1)" font-size="22.3" letter-spacing="1.342" style='font-family:"Noto Sans CJK SC",sans-serif'>-30℃</text>
<text transform="translate(1255.96,1718.60) scale(1.0400,1)" font-size="22.3" letter-spacing="1.407" style='font-family:"Noto Sans CJK SC",sans-serif'>-10℃</text>
<text transform="translate(1159.09,1775.20) scale(1.0400,1)" font-size="22.3" letter-spacing="1.108" style='font-family:"Noto Sans CJK SC",sans-serif'>25℃</text>
<text transform="translate(1059.63,1829.70) scale(1.0400,1)" font-size="22.3" letter-spacing="1.536" style='font-family:"Noto Sans CJK SC",sans-serif'>125℃</text>
<text transform="translate(888.10,1910.82) rotate(-90) scale(0.9600,1)" font-size="23.2" letter-spacing="1.187" style='font-family:"Noto Sans CJK SC",sans-serif'>Gate voltage,V</text>
<text transform="translate(888.10,1739.91) rotate(-90) scale(0.9600,1)" font-size="23.2" style='font-family:"Noto Sans CJK SC",sans-serif'>,</text>
<text transform="translate(888.10,1718.90) rotate(-90) scale(1.1019,1)" font-size="23.2" style='font-family:"Noto Sans CJK SC",sans-serif'>V</text>
<text transform="translate(573.64,144.00) scale(1.0000,1)" font-size="44" font-weight="bold" letter-spacing="0.156" style='font-family:"Liberation Serif",sans-serif'>Thyristor/Diode Module</text>
<text transform="translate(1086.09,144.00) scale(1.0000,1)" font-size="24.6" letter-spacing="0.113" style='font-family:"Liberation Serif",sans-serif'>MT400C(A/K)-DT6</text>
<text transform="translate(1315.18,144.00) scale(1.0000,1)" font-size="24.6" letter-spacing="0.172" style='font-family:"Liberation Serif",sans-serif'>MT400C(A/K)B-DT6</text>
<text transform="translate(110.64,222.70) scale(1.0000,1)" font-size="33.3" font-weight="bold" letter-spacing="0.048" style='font-family:"Liberation Sans",sans-serif'>Electrical Characteristics</text>
<text transform="translate(110.84,799.20) scale(1.0000,1)" font-size="33.3" font-weight="bold" style='font-family:"Liberation Sans",sans-serif'>Performance Curves</text>
<text transform="translate(149.30,1494.60) scale(1.0000,1)" font-size="29.17" font-weight="bold" letter-spacing="0.043" style='font-family:"Liberation Sans",sans-serif'>Fig1. Peak On-state Voltage Vs Peak On-state</text>
<text transform="translate(957.10,1496.40) scale(1.0000,1)" font-size="29.17" font-weight="bold" letter-spacing="0.029" style='font-family:"Liberation Sans",sans-serif'>Fig2. Max. junction To case Thermai</text>
<text transform="translate(1069.50,1529.20) scale(1.0000,1)" font-size="29.17" font-weight="bold" letter-spacing="0.123" style='font-family:"Liberation Sans",sans-serif'>Impedance Vs Time</text>
<text transform="translate(249.20,2171.00) scale(1.0000,1)" font-size="29.17" font-weight="bold" style='font-family:"Liberation Sans",sans-serif'>Fig3. Surge Current Vs Cycles</text>
<text transform="translate(909.00,2175.20) scale(1.0000,1)" font-size="29.17" font-weight="bold" letter-spacing="0.023" style='font-family:"Liberation Sans",sans-serif'>Fig4. Gate Trigger Zone Vs temperature</text>
<text transform="translate(789.25,2211.30) scale(1.0000,1)" font-size="25.0" letter-spacing="0.483" style='font-family:"Liberation Sans",sans-serif'>2 / 3</text>
</svg>
<div id="foot"></div>
</body>
</html>
